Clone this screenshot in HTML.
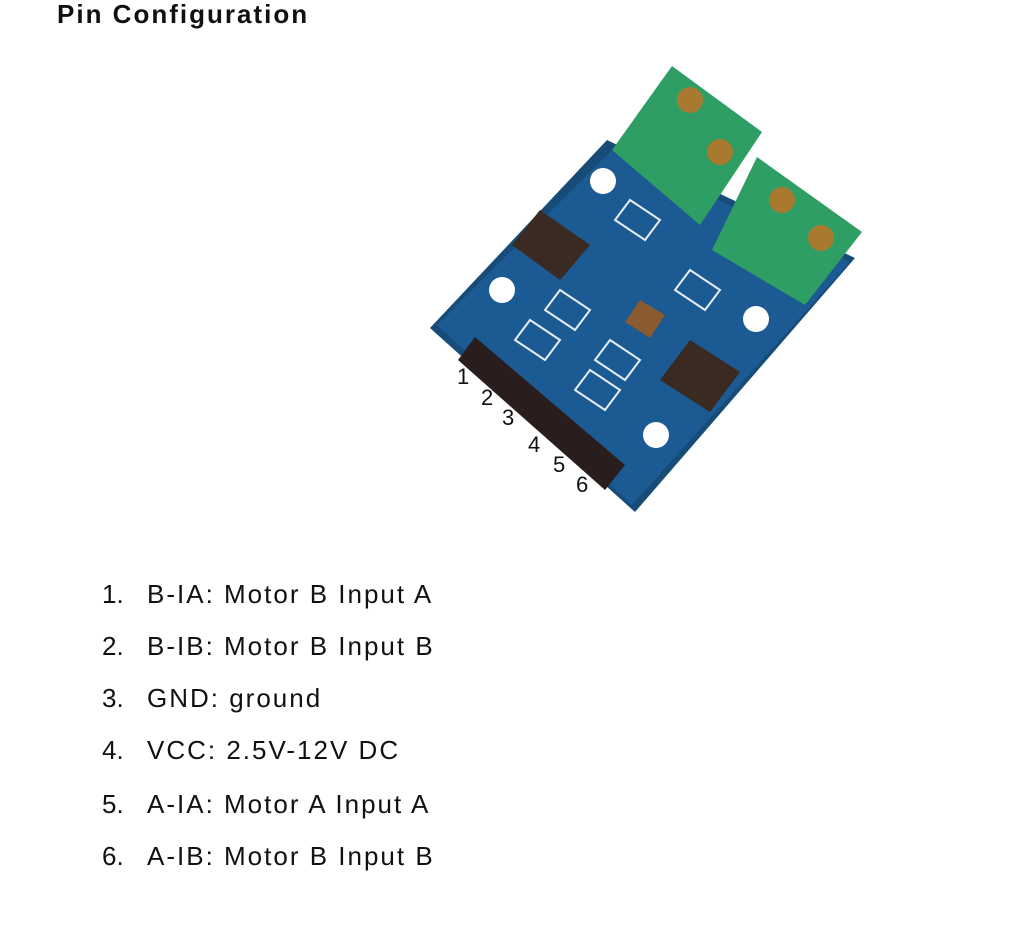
<!DOCTYPE html>
<html><head><meta charset="utf-8"><style>
body{margin:0;width:1022px;height:951px;background:#fff;position:relative;overflow:hidden;font-family:"Liberation Sans",Arial,sans-serif;color:#111}
h1{position:absolute;left:57px;top:-1px;margin:0;font-size:26px;font-weight:bold;letter-spacing:2px}
.li{position:absolute;left:102px;font-size:26px;white-space:nowrap;letter-spacing:2px}
.li span{display:inline-block;width:45px;letter-spacing:0}
svg{position:absolute;left:0;top:0}
</style></head><body>
<h1>Pin Configuration</h1>
<svg width="1022" height="951" viewBox="0 0 1022 951">
<polygon points="607,140 855,258 635,512 430,328" fill="#174b78"/>
<polygon points="612,150 850,262 632,505 437,325" fill="#1b5a92"/>
<!-- terminal blocks -->
<polygon points="672,66 762,132 700,225 612,150" fill="#2e9e64"/>
<polygon points="757,157 862,232 805,305 712,250" fill="#2e9e64"/>
<circle cx="690" cy="100" r="13" fill="#a87a30"/><circle cx="720" cy="152" r="13" fill="#a87a30"/>
<circle cx="782" cy="200" r="13" fill="#a87a30"/><circle cx="821" cy="238" r="13" fill="#a87a30"/>
<!-- holes -->
<circle cx="603" cy="181" r="13" fill="#fff"/><circle cx="502" cy="290" r="13" fill="#fff"/>
<circle cx="756" cy="319" r="13" fill="#fff"/><circle cx="656" cy="435" r="13" fill="#fff"/>
<!-- chips -->
<polygon points="540,210 590,245 560,280 512,245" fill="#3a2a22"/>
<polygon points="690,340 740,372 710,412 660,380" fill="#3a2a22"/>
<polygon points="640,300 665,315 650,338 625,322" fill="#8a5a30"/>
<g fill="none" stroke="#e8eef5" stroke-width="2">
<polygon points="630,200 660,220 645,240 615,220"/>
<polygon points="690,270 720,290 705,310 675,290"/>
<polygon points="560,290 590,310 575,330 545,310"/>
<polygon points="530,320 560,340 545,360 515,340"/>
<polygon points="610,340 640,360 625,380 595,360"/>
<polygon points="590,370 620,390 605,410 575,390"/>
</g>
<!-- header -->
<polygon points="475,337 625,465 605,490 458,360" fill="#2a1d1d"/>
<g font-family="Liberation Sans" font-size="22" fill="#111">
<text x="457" y="384">1</text><text x="481" y="405">2</text><text x="502" y="425">3</text>
<text x="528" y="452">4</text><text x="553" y="472">5</text><text x="576" y="492">6</text>
</g>
</svg>
<div class="li" style="top:579px"><span>1.</span>B-IA: Motor B Input A</div>
<div class="li" style="top:631px"><span>2.</span>B-IB: Motor B Input B</div>
<div class="li" style="top:683px"><span>3.</span>GND: ground</div>
<div class="li" style="top:735px"><span>4.</span>VCC: 2.5V-12V DC</div>
<div class="li" style="top:789px"><span>5.</span>A-IA: Motor A Input A</div>
<div class="li" style="top:841px"><span>6.</span>A-IB: Motor B Input B</div>
</body></html>
